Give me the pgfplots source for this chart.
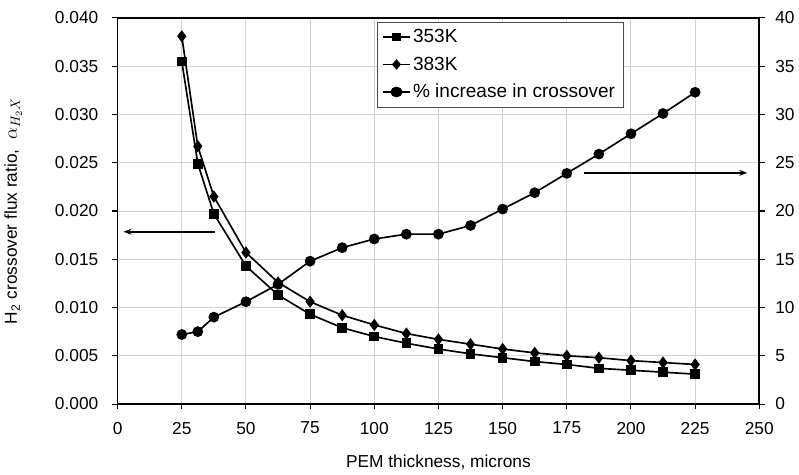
\documentclass[border=0pt]{standalone}
\usepackage{fontspec}
\setmainfont{Liberation Sans}
\usepackage{pgfplots}
\pgfplotsset{compat=1.18}
\usetikzlibrary{arrows.meta}

\begin{document}
\begin{tikzpicture}[font=\fontsize{13}{15.6}\selectfont]
\pgfplotsset{
  every axis/.append style={
    scale only axis, width=482pt, height=290pt,
    xmin=0, xmax=250,
    /pgf/number format/assume math mode=true,
    tick align=outside, major tick length=4pt,
    tick style={black, line width=0.8pt},
    axis line style={black, line width=1.3pt},
  },
  series/.style={black, line width=1.25pt},
}
% left axis: flux ratio
\begin{axis}[
  ymin=0, ymax=0.04,
  xtick={0,25,50,75,100,125,150,175,200,225,250},
  ytick={0,0.005,0.010,0.015,0.020,0.025,0.030,0.035,0.040},
  xtick pos=bottom, ytick pos=left,
  grid=major, grid style={gray!35, line width=0.7pt},
  scaled y ticks=false,
  yticklabel style={/pgf/number format/fixed, /pgf/number format/fixed zerofill,
    /pgf/number format/precision=3, xshift=-7pt},
  xticklabel style={yshift=-6pt},
  xlabel={PEM thickness, microns},
  xlabel style={yshift=-9pt},
  ylabel={H\textsubscript{2} crossover flux ratio,\ \ {\Large$\alpha_{H_2X}$}},
  ylabel style={yshift=18pt},
]
\addplot[series, mark=square*, mark size=3pt] coordinates {
 (25,0.0355) (31.25,0.0249) (37.5,0.0197) (50,0.0143) (62.5,0.0113) (75,0.0093)
 (87.5,0.0079) (100,0.0070) (112.5,0.0063) (125,0.0057) (137.5,0.0052) (150,0.0048)
 (162.5,0.0044) (175,0.0041) (187.5,0.0037) (200,0.0035) (212.5,0.0033) (225,0.0031)};
\addplot[series, mark=diamond*, mark size=3.6pt] coordinates {
 (25,0.0381) (31.25,0.0267) (37.5,0.0215) (50,0.0157) (62.5,0.0126) (75,0.0106)
 (87.5,0.0092) (100,0.0082) (112.5,0.0073) (125,0.0067) (137.5,0.0062) (150,0.0057)
 (162.5,0.0053) (175,0.0050) (187.5,0.0048) (200,0.0045) (212.5,0.0043) (225,0.0041)};
\draw[-{Stealth[length=6pt,width=4.5pt]}, line width=1.2pt] (axis cs:38,0.01785) -- (axis cs:2.3,0.01785);
\end{axis}
% right axis: percentage increase
\begin{axis}[
  ymin=0, ymax=40,
  ytick={0,5,10,15,20,25,30,35,40},
  hide x axis, axis y line*=right, ytick pos=right,
  yticklabel style={xshift=4.5pt},
  legend style={at={(0.404,0.99)}, anchor=north west, draw=black!70, line width=0.6pt,
    font=\fontsize{14.3}{17}\selectfont, row sep=5pt, inner xsep=4pt, inner ysep=3.5pt},
  legend cell align=left,
  legend image post style={xscale=1.15},
]
\addlegendimage{series, mark=square*, mark size=2.4pt}
\addlegendentry{353K}
\addlegendimage{series, mark=diamond*, mark size=3pt}
\addlegendentry{383K}
\addplot[series, mark=*, mark size=3.4pt] coordinates {
 (25,7.2) (31.25,7.5) (37.5,9.0) (50,10.6) (62.5,12.4) (75,14.8)
 (87.5,16.2) (100,17.1) (112.5,17.6) (125,17.6) (137.5,18.5) (150,20.2)
 (162.5,21.9) (175,23.9) (187.5,25.9) (200,28.0) (212.5,30.1) (225,32.3)};
\addlegendentry{\% increase in crossover}
\draw[-{Stealth[length=6pt,width=4.5pt]}, line width=1.2pt] (axis cs:181.6,23.95) -- (axis cs:245.3,23.95);
\end{axis}
% white margin above the plot area
\path ([yshift=13.5pt]current axis.north);
\end{tikzpicture}
\end{document}
